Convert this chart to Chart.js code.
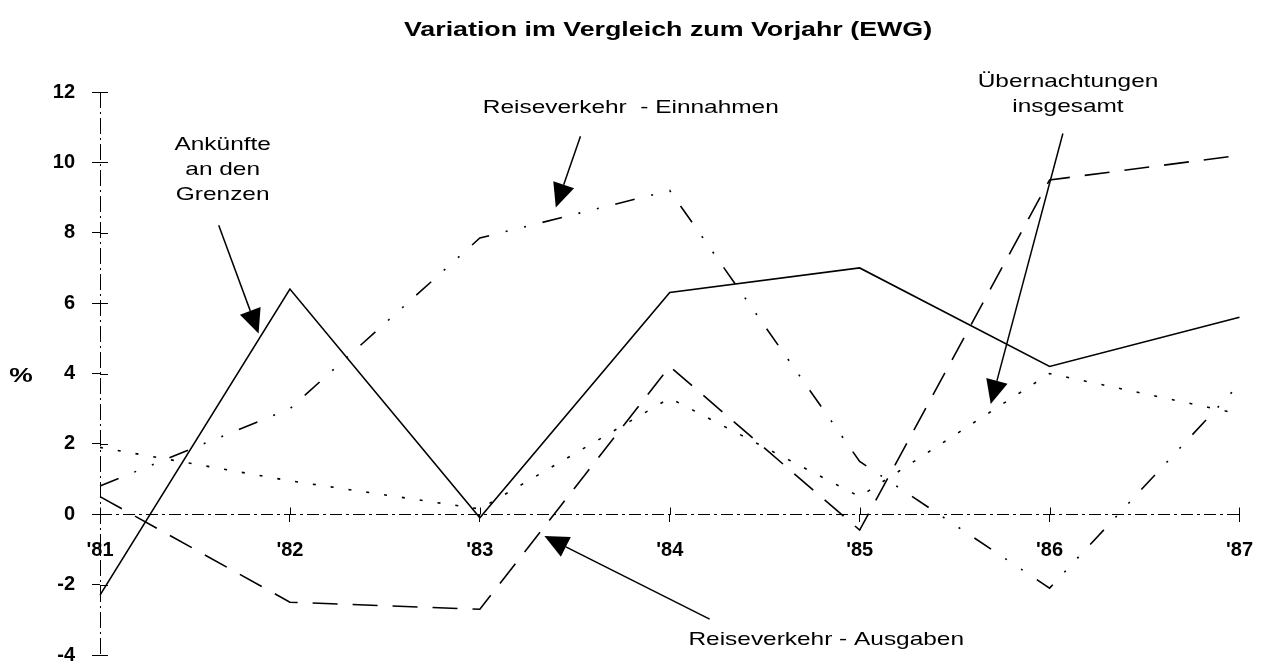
<!DOCTYPE html>
<html>
<head>
<meta charset="utf-8">
<script src="https://cdn.jsdelivr.net/npm/chart.js@4.4.1/dist/chart.umd.min.js"></script>
<style>
  html, body { margin: 0; padding: 0; background: #fff; }
  #wrap { width: 1269px; height: 663px; }
</style>
</head>
<body>
<div id="wrap"><canvas id="chart"></canvas></div>
<script>
// years and yearly change in %
const years = ["'81", "'82", "'83", "'84", "'85", "'86", "'87"];
const ankuenfte = [-2.3, 6.4, -0.1, 6.3, 7.0, 4.2, 5.6];        // Ankünfte an den Grenzen
const einnahmen = [0.8, 3.0, 7.85, 9.2, 1.5, -2.1, 3.7];        // Reiseverkehr - Einnahmen
const uebernachtungen = [1.9, 0.95, 0.15, 3.3, 0.5, 4.0, 2.85]; // Übernachtungen insgesamt
const ausgaben = [0.5, -2.5, -2.7, 4.2, -0.45, 9.5, 10.2];      // Reiseverkehr - Ausgaben
const yMin = -4, yMax = 12, yStep = 2;

const FONT = "'Liberation Sans', Arial, Helvetica, sans-serif";
const STRETCH = 1.32; // the printed lettering is a wide grotesque

// callout labels + arrows, given in data units (x = year index, y = %)
const notes = [
  { text: ['Ankünfte', 'an den', 'Grenzen'], at: [0.646, 10.5], from: [0.625, 8.21], to: [0.835, 5.14] },
  { text: ['Reiseverkehr  - Einnahmen'], at: [2.795, 11.55], from: [2.53, 10.74], to: [2.40, 8.72] },
  { text: ['Übernachtungen', 'insgesamt'], at: [5.097, 12.29], from: [5.07, 10.82], to: [4.69, 3.13] },
  { text: ['Reiseverkehr - Ausgaben'], at: [3.824, -3.57], from: [3.21, -2.98], to: [2.34, -0.62] }
];

function wideText(ctx, s, x, y, k) {
  ctx.save();
  ctx.translate(x, y);
  ctx.scale(k || STRETCH, 1);
  ctx.fillText(s, 0, 0);
  ctx.restore();
}

function arrow(ctx, x0, y0, x1, y1) {
  const a = Math.atan2(y1 - y0, x1 - x0), L = 24, W = 11;
  const bx = x1 - L * Math.cos(a), by = y1 - L * Math.sin(a);
  ctx.lineWidth = 1.5;
  ctx.beginPath();
  ctx.moveTo(x0, y0);
  ctx.lineTo(bx, by);
  ctx.stroke();
  ctx.beginPath();
  ctx.moveTo(x1, y1);
  ctx.lineTo(bx + W * Math.sin(a), by - W * Math.cos(a));
  ctx.lineTo(bx - W * Math.sin(a), by + W * Math.cos(a));
  ctx.closePath();
  ctx.fill();
}

const overlay = {
  id: 'overlay',
  afterDraw(chart) {
    const { ctx, scales: { x, y } } = chart;
    const zero = Math.round(y.getPixelForValue(0)) + 0.5;
    const left = Math.round(x.left) + 0.5;
    ctx.save();
    ctx.fillStyle = '#000';
    ctx.strokeStyle = '#000';
    ctx.lineWidth = 1;

    // dashed axis lines
    ctx.setLineDash([16, 4, 2, 4]);
    ctx.beginPath();
    ctx.moveTo(left, y.top);
    ctx.lineTo(left, y.bottom);
    ctx.stroke();
    ctx.setLineDash([12, 4, 3, 4]);
    ctx.beginPath();
    ctx.moveTo(x.left, zero);
    ctx.lineTo(x.right, zero);
    ctx.stroke();
    ctx.setLineDash([]);

    // other half of the tick crosses
    ctx.beginPath();
    y.ticks.forEach(t => {
      const py = Math.round(y.getPixelForValue(t.value)) + 0.5;
      ctx.moveTo(x.left, py);
      ctx.lineTo(x.left + 8, py);
    });
    x.ticks.forEach((t, i) => {
      const px = Math.round(x.getPixelForTick(i)) + 0.5;
      ctx.moveTo(px, zero - 7);
      ctx.lineTo(px, zero);
    });
    ctx.stroke();

    ctx.textAlign = 'center';
    ctx.textBaseline = 'middle';
    ctx.font = 'bold 20px ' + FONT;
    wideText(ctx, 'Variation im Vergleich zum Vorjahr (EWG)', 668, 30, 1.34);
    wideText(ctx, '%', 21, 376);

    ctx.font = '18.5px ' + FONT;
    notes.forEach(n => {
      const tx = x.getPixelForValue(n.at[0]), ty = y.getPixelForValue(n.at[1]);
      n.text.forEach((s, k) => wideText(ctx, s, tx, ty + k * 25));
      arrow(ctx,
        x.getPixelForValue(n.from[0]), y.getPixelForValue(n.from[1]),
        x.getPixelForValue(n.to[0]), y.getPixelForValue(n.to[1]));
    });
    ctx.restore();
  }
};

function series(data, dash) {
  return {
    data: data,
    borderColor: '#000',
    borderWidth: 1.6,
    borderDash: dash,
    pointRadius: 0,
    tension: 0,
    fill: false
  };
}

new Chart(document.getElementById('chart'), {
  type: 'line',
  data: {
    labels: years,
    datasets: [
      series(ankuenfte, []),
      series(einnahmen, [20, 17, 2, 17, 2, 17]),
      series(uebernachtungen, [3, 15]),
      series(ausgaben, [25, 15])
    ]
  },
  options: {
    responsive: true,
    maintainAspectRatio: false,
    animation: false,
    layout: { padding: { top: 92, right: 26, bottom: 8, left: 0 } },
    plugins: { legend: { display: false }, tooltip: { enabled: false } },
    scales: {
      x: {
        position: { y: 0 },
        offset: false,
        grid: { drawOnChartArea: false, tickLength: 8, color: '#000' },
        border: { display: false },
        ticks: { color: '#000', padding: 16, maxRotation: 0, font: { family: FONT, size: 20, weight: 'bold' } }
      },
      y: {
        min: yMin,
        max: yMax,
        afterFit(scale) {
          scale.width = 100;
          scale.paddingTop = 0;
          scale.paddingBottom = 0;
        },
        grid: { drawOnChartArea: false, tickLength: 8, color: '#000' },
        border: { display: false },
        ticks: { stepSize: yStep, color: '#000', padding: 17, font: { family: FONT, size: 20, weight: 'bold' } }
      }
    }
  },
  plugins: [overlay]
});
</script>
</body>
</html>
